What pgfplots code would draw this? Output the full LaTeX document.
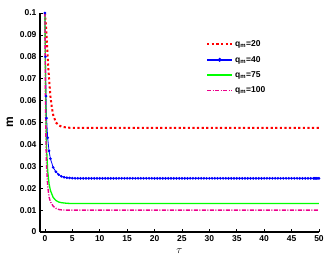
\documentclass[border=0pt]{standalone}
\usepackage{pgfplots}
\pgfplotsset{compat=1.18}
\usepackage{fontspec}
\setmainfont{Liberation Sans}
\begin{document}
\begin{tikzpicture}
\useasboundingbox (-40pt,-34pt) rectangle (293pt,232pt);
\begin{axis}[
  scale only axis, width=279pt, height=219pt,
  xmin=-0.9, xmax=50, ymin=0, ymax=0.1,
  axis x line=bottom, axis y line=left,
  axis line style={line width=1.2pt,-},
  tick align=inside, major tick length=3pt,
  tick style={line width=0.8pt,black},
  xtick={0,5,...,50},
  ytick={0,0.01,0.02,0.03,0.04,0.05,0.06,0.07,0.08,0.09,0.1},
  yticklabels={0,0.01,0.02,0.03,0.04,0.05,0.06,0.07,0.08,0.09,0.1},
  scaled y ticks=false,
  /pgf/number format/assume math mode=true,
  ticklabel style={font=\fontsize{8.5}{9}\selectfont\bfseries},
  ylabel={\bfseries m}, ylabel style={font=\fontsize{12}{13}\selectfont, rotate=0},
  xlabel={$\tau$}, xlabel style={font=\fontsize{11}{12}\selectfont},
  legend style={at={(0.584,0.893)}, anchor=north west, draw=white, fill=white,
    font=\fontsize{8.5}{10}\selectfont\bfseries, row sep=4pt},
  legend cell align=left,
  legend image code/.code={\draw[mark repeat=2,mark phase=2,#1] plot coordinates {(0pt,0pt) (12.5pt,0pt) (25pt,0pt)};},
  clip=false,
]
\addlegendimage{color=red, draw=red, line width=2pt, dash pattern=on 2.2pt off 2.4pt}
\addlegendentry{q$_{\mathbf m}$=20}
\addlegendimage{color=blue, draw=blue, line width=1.5pt, mark=*, mark size=1.1pt, mark options={fill=blue,draw=blue,solid}}
\addlegendentry{q$_{\mathbf m}$=40}
\addlegendimage{color=green, draw=green, line width=1.6pt}
\addlegendentry{q$_{\mathbf m}$=75}
\addlegendimage{color=magenta, draw=magenta, line width=1.4pt, dash pattern=on 4pt off 1.5pt on 1pt off 1.5pt}
\addlegendentry{q$_{\mathbf m}$=100}
\addplot[forget plot, color=red, line width=2pt, dash pattern=on 2.2pt off 2.4pt] coordinates {
(0,0.1) (0.25,0.092) (0.5,0.08) (0.75,0.07) (1,0.062) (1.25,0.057) (1.5,0.0535) (2,0.050) (2.5,0.0488) (3,0.0481) (4,0.0477) (5,0.0475) (10,0.0475) (20,0.0475) (30,0.0475) (40,0.0475) (50,0.0475)};
\addplot[forget plot, color=blue, line width=0.8pt, mark=*, mark size=0.9pt] coordinates {
(0,0.1) (0.1,0.08) (0.2,0.062) (0.3,0.052) (0.5,0.043) (0.75,0.037) (1,0.0335) (1.5,0.0295) (2,0.0275) (2.5,0.0262) (3,0.0254) (3.5,0.025) (4,0.0248) (4.5,0.0247) (5,0.0246)
(5.5,0.0245) (6,0.0245) (6.5,0.0245) (7,0.0245) (7.5,0.0245) (8,0.0245) (8.5,0.0245) (9,0.0245) (9.5,0.0245) (10,0.0245)
(10.5,0.0245) (11,0.0245) (11.5,0.0245) (12,0.0245) (12.5,0.0245) (13,0.0245) (13.5,0.0245) (14,0.0245) (14.5,0.0245) (15,0.0245)
(15.5,0.0245) (16,0.0245) (16.5,0.0245) (17,0.0245) (17.5,0.0245) (18,0.0245) (18.5,0.0245) (19,0.0245) (19.5,0.0245) (20,0.0245)
(20.5,0.0245) (21,0.0245) (21.5,0.0245) (22,0.0245) (22.5,0.0245) (23,0.0245) (23.5,0.0245) (24,0.0245) (24.5,0.0245) (25,0.0245)
(25.5,0.0245) (26,0.0245) (26.5,0.0245) (27,0.0245) (27.5,0.0245) (28,0.0245) (28.5,0.0245) (29,0.0245) (29.5,0.0245) (30,0.0245)
(30.5,0.0245) (31,0.0245) (31.5,0.0245) (32,0.0245) (32.5,0.0245) (33,0.0245) (33.5,0.0245) (34,0.0245) (34.5,0.0245) (35,0.0245)
(35.5,0.0245) (36,0.0245) (36.5,0.0245) (37,0.0245) (37.5,0.0245) (38,0.0245) (38.5,0.0245) (39,0.0245) (39.5,0.0245) (40,0.0245)
(40.5,0.0245) (41,0.0245) (41.5,0.0245) (42,0.0245) (42.5,0.0245) (43,0.0245) (43.5,0.0245) (44,0.0245) (44.5,0.0245) (45,0.0245)
(45.5,0.0245) (46,0.0245) (46.5,0.0245) (47,0.0245) (47.5,0.0245) (48,0.0245) (48.5,0.0245) (49,0.0245) (49.2,0.0245) (49.4,0.0245) (49.6,0.0245) (49.8,0.0245) (50,0.0245)};
\addplot[forget plot, color=green, line width=1.3pt] coordinates {
(0,0.1) (0.1,0.07) (0.2,0.05) (0.3,0.038) (0.5,0.028) (0.75,0.022) (1,0.019) (1.5,0.0158) (2,0.0144) (2.5,0.0137) (3,0.0134) (4,0.0131) (5,0.013) (10,0.013) (20,0.013) (30,0.013) (40,0.013) (50,0.013)};
\addplot[forget plot, color=magenta, line width=1.4pt, dash pattern=on 4pt off 1.5pt on 1pt off 1.5pt] coordinates {
(0,0.1) (0.1,0.06) (0.2,0.04) (0.3,0.03) (0.5,0.021) (0.75,0.016) (1,0.0138) (1.5,0.0118) (2,0.0108) (2.5,0.0103) (3,0.0101) (4,0.0100) (5,0.0100) (10,0.0100) (20,0.0100) (30,0.0100) (40,0.0100) (50,0.0100)};
\end{axis}
\end{tikzpicture}
\end{document}
